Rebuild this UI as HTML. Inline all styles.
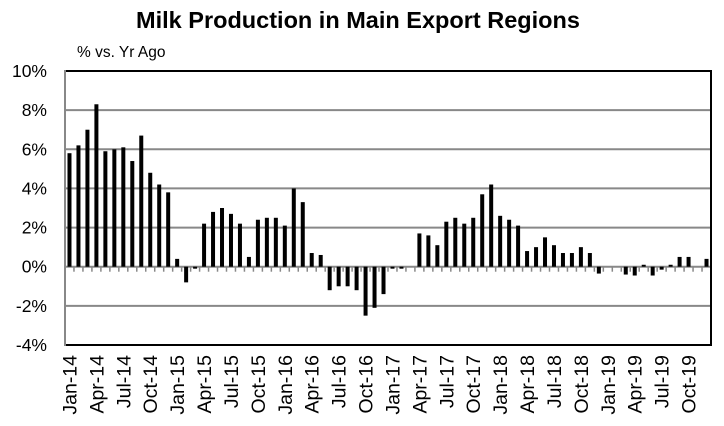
<!DOCTYPE html>
<html><head><meta charset="utf-8"><style>
body{margin:0;background:#fff;}
svg{display:block;font-family:"Liberation Sans",Arial,sans-serif;}
</style></head><body>
<svg id="chart" width="724" height="426">
<text x="358" y="28" text-anchor="middle" font-size="23.5" font-weight="bold">Milk Production in Main Export Regions</text>
<text x="77" y="57" font-size="15.5">% vs. Yr Ago</text>
<g id="grid"></g><g id="bars"></g><g id="labels"></g>
<rect x="65" y="71" width="646" height="274" fill="none" stroke="#000" stroke-width="2"/>
<line x1="65" y1="70" x2="65" y2="346" stroke="#888" stroke-width="2"/>
</svg>
<script>
const months=["Jan","Feb","Mar","Apr","May","Jun","Jul","Aug","Sep","Oct","Nov","Dec"];
const years=["14","15","16","17","18","19"];
const values=[5.8,6.2,7.0,8.3,5.9,6.0,6.1,5.4,6.7,4.8,4.2,3.8,
0.4,-0.8,-0.1,2.2,2.8,3.0,2.7,2.2,0.5,2.4,2.5,2.5,
2.1,4.0,3.3,0.7,0.6,-1.2,-1.0,-1.0,-1.2,-2.5,-2.1,-1.4,
-0.1,-0.1,0,1.7,1.6,1.1,2.3,2.5,2.2,2.5,3.7,4.2,
2.6,2.4,2.1,0.8,1.0,1.5,1.1,0.7,0.7,1.0,0.7,-0.35,
0,0,-0.4,-0.45,0.1,-0.45,-0.15,0.1,0.5,0.5,0,0.4];
const yTicks=[-4,-2,0,2,4,6,8,10];
const NS="http://www.w3.org/2000/svg";
const x0=65,x1=711,yTop=71,yBot=345,vMin=-4,vMax=10;
const n=values.length,step=(x1-x0)/n;
const y=v=>yBot-(v-vMin)/(vMax-vMin)*(yBot-yTop);
const xc=i=>x0+step*(i+0.5);
function mk(tag,attrs,parent){const e=document.createElementNS(NS,tag);for(const k in attrs)e.setAttribute(k,attrs[k]);document.getElementById(parent).appendChild(e);return e;}
yTicks.forEach(t=>{
  if(t!==vMax&&t!==vMin){const l=mk("line",{x1:x0,x2:x1,y1:y(t),y2:y(t),stroke:"#888","stroke-width":2},"grid");
  
  }
  const tx=mk("text",{x:47,y:y(t)+6,"text-anchor":"end","font-size":17.5},"labels");
  tx.textContent=t+"%";
  
  
});
for(let i=0;i<n;i++){
  const tk=mk("line",{x1:x0+step*(i+1),x2:x0+step*(i+1),y1:y(0),y2:y(0)+5,stroke:"#888","stroke-width":1.5},"grid");
  
  
  const v=values[i];if(v===0)continue;
  const r=mk("rect",{x:xc(i)-2,y:Math.min(y(v),y(0)),width:4,height:Math.abs(y(v)-y(0)),fill:"#000"},"bars");
  
  
}
for(let i=0;i<n;i+=3){
  const lx=xc(i)+7,ly=355;
  const t=mk("text",{x:lx,y:ly,"text-anchor":"end","font-size":19.5,transform:`rotate(-90 ${lx} ${ly})`},"labels");
  t.textContent=months[i%12]+"-"+years[Math.floor(i/12)];
  
  
}
</script>
</body></html>
